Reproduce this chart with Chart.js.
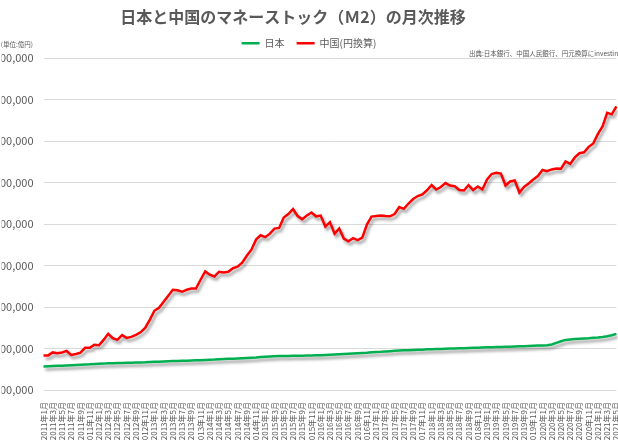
<!DOCTYPE html>
<html lang="ja">
<head>
<meta charset="utf-8">
<title>日本と中国のマネーストック(M2)の月次推移</title>
<script src="https://cdn.jsdelivr.net/npm/chart.js@4.4.1/dist/chart.umd.min.js"></script>
<style>
  html, body { margin: 0; padding: 0; background: #fff; overflow: hidden; }
  body { width: 618px; height: 440px; position: relative; }
  #m2Chart { position: absolute; left: -30px; top: 0; }
</style>
</head>
<body>
<canvas id="m2Chart" width="676" height="440"></canvas>
<script>
// 単位: 億円。2011年1月〜2021年5月の月次
const startYear = 2011;
const monthCount = 125;
const months = [];
for (let i = 0; i < monthCount; i++) {
  months.push((startYear + Math.floor(i / 12)) + "年" + (i % 12 + 1) + "月");
}

const japanM2 = [
  7820000, 7850000, 7890000, 7910000, 7930000, 7960000, 7990000, 8010000, 8040000, 8060000, 8090000, 8140000,
  8170000, 8180000, 8220000, 8230000, 8250000, 8260000, 8280000, 8290000, 8310000, 8320000, 8340000, 8380000,
  8400000, 8410000, 8450000, 8470000, 8490000, 8510000, 8520000, 8540000, 8560000, 8580000, 8600000, 8630000,
  8650000, 8670000, 8710000, 8740000, 8760000, 8780000, 8810000, 8830000, 8860000, 8890000, 8920000, 8970000,
  9010000, 9030000, 9060000, 9090000, 9100000, 9110000, 9120000, 9130000, 9140000, 9150000, 9160000, 9180000,
  9200000, 9220000, 9250000, 9280000, 9310000, 9340000, 9380000, 9410000, 9440000, 9470000, 9500000, 9550000,
  9580000, 9600000, 9640000, 9680000, 9720000, 9750000, 9780000, 9800000, 9820000, 9840000, 9860000, 9900000,
  9920000, 9930000, 9950000, 9970000, 9990000, 10000000, 10020000, 10040000, 10060000, 10080000, 10100000, 10120000,
  10140000, 10150000, 10170000, 10190000, 10200000, 10220000, 10240000, 10260000, 10280000, 10300000, 10320000, 10350000,
  10370000, 10390000, 10480000, 10680000, 10880000, 11040000, 11100000, 11140000, 11180000, 11220000, 11250000, 11300000,
  11320000, 11380000, 11470000, 11600000, 11770000
];

const chinaM2Yen = [
  9150000, 9170000, 9530000, 9440000, 9530000, 9710000, 9230000, 9350000, 9510000, 10080000, 10080000, 10440000,
  10400000, 11040000, 11770000, 11250000, 11040000, 11610000, 11280000, 11400000, 11650000, 11950000, 12490000, 13460000,
  14550000, 14910000, 15630000, 16360000, 17080000, 17020000, 16840000, 17080000, 17240000, 17240000, 18290000, 19300000,
  18900000, 18690000, 19260000, 19180000, 19260000, 19680000, 19860000, 20350000, 21190000, 21920000, 23130000, 23650000,
  23430000, 23850000, 24460000, 24540000, 25790000, 26210000, 26810000, 25970000, 25600000, 26030000, 26390000, 25940000,
  26030000, 24700000, 25240000, 23850000, 24460000, 23250000, 22920000, 23310000, 23070000, 23370000, 24940000, 25910000,
  25990000, 26030000, 25970000, 25940000, 26210000, 27050000, 26840000, 27480000, 28020000, 28380000, 28570000, 29080000,
  29710000, 29170000, 29470000, 29950000, 29650000, 29570000, 29110000, 29050000, 29710000, 29110000, 29530000, 29170000,
  30380000, 31040000, 31190000, 31100000, 29650000, 30140000, 30260000, 28810000, 29470000, 29890000, 30380000, 30800000,
  31530000, 31380000, 31590000, 31710000, 31680000, 32550000, 32250000, 33040000, 33540000, 33660000, 34310000, 34730000,
  35880000, 36780000, 38410000, 38230000, 39200000
];

const yMin = 5000000;
const yMax = 45000000;
const yStep = 5000000;

const textGray = "#595959";
const gridGray = "#D9D9D9";
const fontFamily = "'Noto Sans CJK JP', 'Noto Sans', sans-serif";

// 左右の余白 (凡例の中心を合わせつつ、プロット右端は 646.4)
const padLeft = 31.6;
const padRight = 29.6;
const plotLeft = 73.5;

Chart.defaults.font.family = fontFamily;
Chart.defaults.color = textGray;

// Excel風の線の影
const lineShadow = {
  id: "lineShadow",
  beforeDatasetsDraw(chart) {
    const ctx = chart.ctx;
    ctx.save();
    ctx.shadowColor = "rgba(0,0,0,0.38)";
    ctx.shadowBlur = 3;
    ctx.shadowOffsetX = 2;
    ctx.shadowOffsetY = 3;
  },
  afterDatasetsDraw(chart) {
    chart.ctx.restore();
  }
};

// 単位と出典の注記
const notes = {
  id: "notes",
  afterDraw(chart) {
    const ctx = chart.ctx;
    ctx.save();
    ctx.fillStyle = textGray;
    ctx.textBaseline = "middle";
    ctx.font = "6.5px " + fontFamily;
    ctx.textAlign = "right";
    ctx.fillText("(単位:億円)", 63, 45);
    ctx.textAlign = "left";
    ctx.fillText("出典:日本銀行、中国人民銀行、円元換算にinvesting.com", 499, 54);
    ctx.restore();
  }
};

new Chart(document.getElementById("m2Chart"), {
  type: "line",
  data: {
    labels: months,
    datasets: [
      {
        label: "日本",
        data: japanM2,
        borderColor: "#00B050",
        backgroundColor: "#00B050",
        borderWidth: 2.5,
        pointRadius: 0,
        tension: 0
      },
      {
        label: "中国(円換算)",
        data: chinaM2Yen,
        borderColor: "#FF0000",
        backgroundColor: "#FF0000",
        borderWidth: 2.5,
        pointRadius: 0,
        tension: 0
      }
    ]
  },
  plugins: [lineShadow, notes],
  options: {
    responsive: false,
    animation: false,
    layout: { padding: { left: padLeft, right: padRight, top: 0, bottom: 0 } },
    plugins: {
      title: {
        display: true,
        // 末尾の全角空白でタイトルの中心を左へ寄せる
        text: "日本と中国のマネーストック（Ｍ2）の月次推移　　",
        color: textGray,
        font: { size: 16, weight: "bold", lineHeight: 1.2 },
        padding: { top: 7, bottom: 0 }
      },
      legend: {
        display: true,
        position: "top",
        labels: {
          color: textGray,
          font: { size: 10 },
          usePointStyle: true,
          pointStyle: "line",
          pointStyleWidth: 18,
          boxHeight: 10,
          padding: 12
        }
      },
      tooltip: { enabled: false }
    },
    scales: {
      x: {
        grid: { display: false },
        border: { display: false },
        ticks: {
          autoSkip: false,
          minRotation: 90,
          maxRotation: 90,
          padding: 4,
          color: textGray,
          font: { size: 8 },
          callback: function (value, index) {
            return index % 2 === 0 ? this.getLabelForValue(value) : "";
          }
        },
        afterFit(scale) { scale.height = 50; }
      },
      y: {
        min: yMin,
        max: yMax,
        border: { display: false },
        grid: { color: gridGray, lineWidth: 1, drawTicks: false },
        ticks: {
          stepSize: yStep,
          padding: 10,
          color: textGray,
          font: { size: 11 },
          callback: (v) => v.toLocaleString("en-US")
        },
        afterFit(scale) { scale.width = plotLeft - padLeft; }
      }
    }
  }
});
</script>
</body>
</html>
